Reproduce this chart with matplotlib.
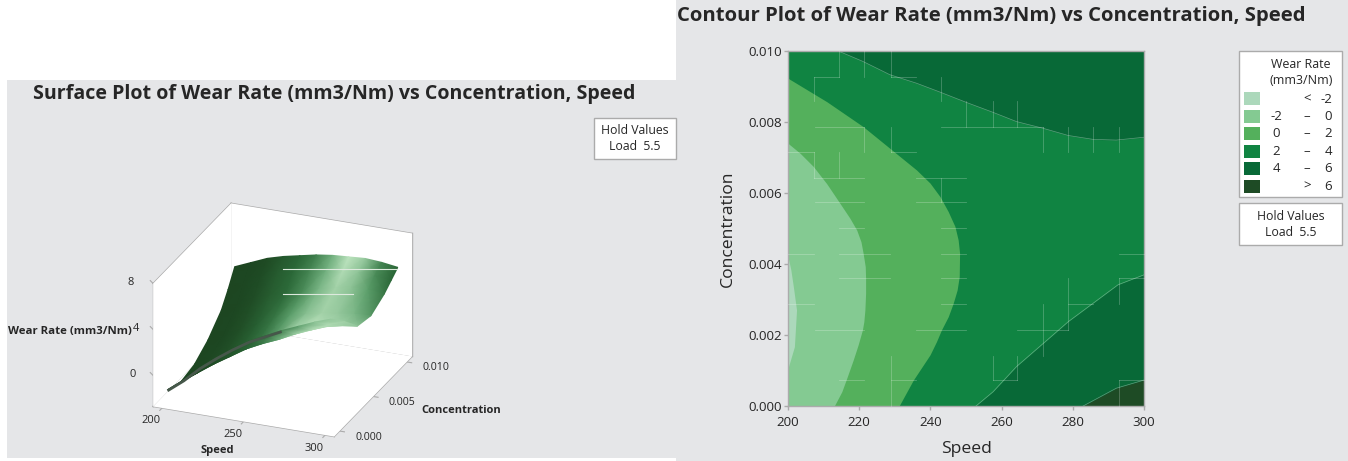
import numpy as np
import matplotlib
matplotlib.use('Agg')
import matplotlib.pyplot as plt
from matplotlib.colors import LinearSegmentedColormap
from matplotlib.patches import Rectangle
from mpl_toolkits.mplot3d import proj3d
from mpl_toolkits.mplot3d.art3d import Poly3DCollection

plt.rcParams['font.family'] = ['Open Sans', 'DejaVu Sans']

# ---- contour data, level boundaries
curve_m2_speed = [200.0, 200.8, 201.5, 202.4, 201.8, 200.0]
curve_m2_conc = [0.0042, 0.00383, 0.00336, 0.0027, 0.00167, 0.00106]
curve_0_speed = [200.0, 203.4, 207.1, 210.9, 214.6, 217.4, 219.3, 220.5, 221.1, 221.7, 221.8, 221.8, 221.6,
                 221.3, 220.9, 219.7, 218.3, 216.5, 215.1, 213.0]
curve_0_conc = [0.00739, 0.00711, 0.00674, 0.00625, 0.0057, 0.00528, 0.00495, 0.00462, 0.0043, 0.00392, 0.00359,
                0.00317, 0.0027, 0.00237, 0.00214, 0.00172, 0.00129, 0.00078, 0.0004, 0.0]
curve_2_speed = [200.0, 210.9, 221.1, 228.6, 236.1, 239.9, 242.7, 245.0, 246.9, 247.8, 248.2, 248.1, 247.5,
                 246.4, 245.0, 243.1, 241.7, 239.9, 235.2, 231.2]
curve_2_conc = [0.00922, 0.00856, 0.00786, 0.00725, 0.00664, 0.00627, 0.00589, 0.00547, 0.00505, 0.00467,
                0.0043, 0.00364, 0.00326, 0.00289, 0.00251, 0.00214, 0.00181, 0.00144, 0.00073, 0.0]
curve_4top_speed = [213.8, 221.1, 228.6, 236.1, 242.7, 250.1, 257.6, 264.2, 271.7, 278.7, 285.7, 292.2, 300.0]
curve_4top_conc = [0.01, 0.00969, 0.00932, 0.00908, 0.00883, 0.00854, 0.00826, 0.008, 0.00781, 0.00761,
                   0.0075, 0.00748, 0.00756]
curve_4bot_speed = [252.8, 257.6, 264.2, 271.7, 278.7, 285.7, 292.7, 300.0]
curve_4bot_conc = [0.0, 0.0004, 0.00111, 0.00176, 0.00237, 0.00289, 0.00341, 0.00369]
curve_6_speed = [282.9, 292.2, 300.0]
curve_6_conc = [0.0, 0.0005, 0.00073]

band_colors = ['#ACD8BB', '#84CA92', '#54B05C', '#108442', '#086937', '#1E4B25']
legend_low = ['', '-2', '0', '2', '4', '']
legend_sep = ['<', '–', '–', '–', '–', '>']
legend_high = ['-2', '0', '2', '4', '6', '6']

# ---- surface data, estimated from the contours
surf_speed = [200, 210, 220, 230, 240, 250, 260, 270, 280, 290, 300]
surf_conc = [0.010, 0.009, 0.008, 0.006, 0.004, 0.002, 0.000]
surf_z = [
    [3.1, 3.7, 4.3, 4.7, 5.0, 5.3, 5.5, 5.6, 5.7, 5.6, 5.4],
    [1.7, 2.6, 3.3, 3.9, 4.3, 4.55, 4.7, 4.85, 5.05, 5.0, 4.85],
    [0.5, 1.2, 2.05, 2.6, 3.0, 3.3, 3.8, 4.1, 4.4, 4.4, 4.3],
    [-0.9, -0.2, 0.5, 1.2, 1.85, 2.4, 2.8, 3.1, 3.3, 3.5, 3.6],
    [-1.8, -1.0, -0.15, 0.6, 1.3, 2.1, 2.6, 3.0, 3.4, 3.7, 3.9],
    [-2.1, -1.1, -0.1, 0.8, 1.7, 2.4, 3.0, 3.7, 4.3, 5.0, 5.5],
    [-1.6, -0.5, 0.8, 1.9, 2.9, 3.8, 4.5, 5.2, 5.8, 6.4, 6.9],
]
surf_shade = [
    [.02, .03, .06, .18, .30, .45, .72, 1.0, .85, .48, .30],
    [.02, .03, .07, .20, .32, .48, .72, .95, .82, .52, .32],
    [.02, .03, .08, .22, .34, .52, .75, .90, .82, .62, .40],
    [.02, .03, .10, .24, .40, .62, .80, .90, .85, .75, .58],
    [.02, .04, .10, .22, .38, .58, .88, 1.0, .95, .90, .82],
    [.02, .04, .08, .16, .28, .42, .70, .88, .95, .95, .90],
    [.02, .03, .05, .08, .12, .20, .30, .45, .60, .80, .85],
]
speed_ticks = [200, 250, 300]
conc_ticks = [0.000, 0.005, 0.010]
z_ticks = [0, 4, 8]
# the 4 is pushed right a little so it clears the axis title
z_label_dx = [-20, -17, -22]

# seams in the contour fill, (fixed, from, to) in 3x crop pixels
seams_h = [(140, 343, 416), (140, 572, 648), (290, 345, 493), (290, 722, 1028), (367, 264, 343), (367, 572, 648),
           (445, 343, 492), (445, 648, 798), (517, 345, 492), (517, 648, 798), (595, 416, 492), (595, 722, 798),
           (673, 264, 343), (673, 416, 570), (673, 722, 798), (673, 1256, 1333), (745, 416, 570), (745, 722, 798),
           (745, 1256, 1333), (823, 264, 343), (823, 722, 798), (823, 1105, 1180), (900, 345, 492), (900, 648, 798),
           (900, 950, 1105), (1051, 416, 492), (1051, 572, 648), (1051, 878, 950), (1051, 1256, 1333)]
seams_v = [(343, 140, 212), (343, 367, 445), (416, 62, 140), (416, 367, 445), (493, 62, 140), (493, 290, 367),
           (572, 62, 140), (572, 290, 367), (572, 978, 1128), (722, 140, 212), (722, 445, 517), (798, 212, 290),
           (878, 212, 290), (878, 978, 1051), (950, 212, 290), (950, 978, 1051), (1028, 290, 367), (1028, 823, 978),
           (1105, 290, 367), (1105, 745, 900), (1180, 290, 367), (1256, 290, 367), (1256, 745, 823), (1256, 1051, 1128)]

GREY = '#E5E6E8'
INK = '#262626'
EDGE = '#ABABAB'
W, H = 1348, 461


def px_rect(x0, y0, x1, y1):
    """figure fractions of a rectangle given in pixels from the top left"""
    return [x0 / W, 1 - y1 / H, (x1 - x0) / W, (y1 - y0) / H]


fig = plt.figure(figsize=(W / 100, H / 100), dpi=100, facecolor='white')

bg = fig.add_axes([0, 0, 1, 1], zorder=-1)
bg.set_xlim(0, W)
bg.set_ylim(H, 0)
bg.axis('off')
bg.add_patch(Rectangle((7, 80), 669, 378, fc=GREY, ec='none'))
bg.add_patch(Rectangle((676, 0), 672, 461, fc=GREY, ec='none'))

# ---- contour panel
ax = fig.add_axes(px_rect(788, 50.5, 1144, 406), zorder=1)
ax.set_xlim(200, 300)
ax.set_ylim(0, 0.01)
ax.axvspan(200, 300, color=band_colors[3], lw=0)
ax.fill_betweenx(curve_2_conc, 200, curve_2_speed, color=band_colors[2], lw=0)
ax.fill_betweenx(curve_0_conc, 200, curve_0_speed, color=band_colors[1], lw=0)
ax.fill_betweenx(curve_m2_conc, 200, curve_m2_speed, color=band_colors[0], lw=0)
ax.fill_between(curve_4top_speed, curve_4top_conc, 0.01, color=band_colors[4], lw=0)
ax.fill_between(curve_4bot_speed, 0, curve_4bot_conc, color=band_colors[4], lw=0)
ax.fill_between(curve_6_speed, 0, curve_6_conc, color=band_colors[5], lw=0)
for xs, ys in [(curve_4top_speed, curve_4top_conc), (curve_4bot_speed, curve_4bot_conc), (curve_6_speed, curve_6_conc)]:
    ax.plot(xs, ys, color='white', lw=0.5, alpha=0.35)
ax.set_xticks([200, 220, 240, 260, 280, 300])
ax.set_yticks([0, 0.002, 0.004, 0.006, 0.008, 0.010])
ax.set_yticklabels(['%.3f' % t for t in ax.get_yticks()])
ax.tick_params(length=3, width=1, color=EDGE, labelsize=9.6, labelcolor=INK, pad=1.5)
ax.tick_params(axis='x', pad=4)
for sp in ax.spines.values():
    sp.set_color(EDGE)
    sp.set_linewidth(1)
ax.set_xlabel('Speed', fontsize=12.6, color=INK, labelpad=9)
ax.set_ylabel('Concentration', fontsize=12.6, color=INK, labelpad=9)

# ---- surface panel, the 3d axes give the projection
ax3 = fig.add_axes(px_rect(125, 170.6, 432, 477.6), projection='3d', zorder=0)
ax3.patch.set_visible(False)
ax3.set_proj_type('ortho')
ax3.view_init(elev=24.4, azim=-68.1)
ax3.set_box_aspect((195, 209, 135), zoom=1.0)
x0, x1 = 194.5, 305.5
y0, y1 = -0.0008, 0.0108
z0, z1 = -2.7, 8.0
ax3.set_xlim(x0, x1, view_margin=0)
ax3.set_ylim(y0, y1, view_margin=0)
ax3.set_zlim(z0, z1, view_margin=0)
ax3.set_axis_off()

walls = [
    [(x0, y0, z0), (x1, y0, z0), (x1, y1, z0), (x0, y1, z0)],
    [(x0, y0, z0), (x0, y1, z0), (x0, y1, z1), (x0, y0, z1)],
    [(x0, y1, z0), (x1, y1, z0), (x1, y1, z1), (x0, y1, z1)],
]
ax3.add_collection3d(Poly3DCollection(walls, facecolors='white', edgecolors='none'))
box_edges = [
    ((x0, x1), (y0, y0), (z0, z0)), ((x1, x1), (y0, y1), (z0, z0)), ((x0, x1), (y1, y1), (z0, z0)),
    ((x0, x0), (y0, y1), (z0, z0)), ((x0, x0), (y0, y0), (z0, z1)), ((x0, x0), (y1, y1), (z0, z1)),
    ((x1, x1), (y1, y1), (z0, z1)), ((x0, x0), (y0, y1), (z1, z1)), ((x0, x1), (y1, y1), (z1, z1)),
]
for ex, ey, ez in box_edges:
    ax3.plot(ex, ey, ez, color=EDGE, lw=1)
for t in speed_ticks:
    ax3.plot((t, t), (y0, y0 - 0.00035), (z0, z0), color=EDGE, lw=0.8)
for t in conc_ticks:
    ax3.plot((x1, x1 + 3), (t, t), (z0, z0), color=EDGE, lw=0.8)
for t in z_ticks:
    ax3.plot((x0, x0 - 3), (y0, y0 + 0.0003), (t, t), color=EDGE, lw=0.8)

fig.canvas.draw()


def to_px(x, y, z):
    """project data coordinates of the 3d axes to figure pixels"""
    u, v, _ = proj3d.proj_transform(np.ravel(x), np.ravel(y), np.ravel(z), ax3.get_proj())
    d = ax3.transData.transform(np.column_stack([u, v]))
    return d[:, 0], H - d[:, 1]


over = fig.add_axes([0, 0, 1, 1], zorder=5)
over.patch.set_visible(False)
over.axis('off')

sx, sy = np.meshgrid(surf_speed, surf_conc)
px, py = to_px(sx, sy, np.array(surf_z))
surf_cmap = LinearSegmentedColormap.from_list('surf', ['#1C4420', '#2C6A39', '#63A672', '#BDE4BF'])
over.pcolormesh(px.reshape(sx.shape), py.reshape(sx.shape), np.array(surf_shade), cmap=surf_cmap,
                vmin=0, vmax=1, shading='gouraud')
ex, ey = to_px(surf_speed, np.zeros(len(surf_speed)), surf_z[-1])
over.plot(ex[:8], ey[:8] + 1, color='#46574A', lw=2, solid_capstyle='butt')
over.plot([283, 397], [269, 269], color='#DDE9DD', lw=0.8)
over.plot([283, 353], [294, 294], color='#DDE9DD', lw=0.8)

for f, a, b in seams_h:
    over.plot([700 + a / 3, 700 + b / 3], [30 + f / 3, 30 + f / 3], color='white', lw=0.6, alpha=0.25)
for f, a, b in seams_v:
    over.plot([700 + f / 3, 700 + f / 3], [30 + a / 3, 30 + b / 3], color='white', lw=0.6, alpha=0.25)

# 3d tick labels
for t in speed_ticks:
    tx, ty = to_px(t, y0, z0)
    over.text(tx[0] - 11, ty[0] + 13, str(t), fontsize=8, color=INK, ha='center', va='center')
for t in conc_ticks:
    tx, ty = to_px(x1, t, z0)
    over.text(tx[0] + 29, ty[0] + 6, '%.3f' % t, fontsize=7.6, color=INK, ha='center', va='center')
for t, dx in zip(z_ticks, z_label_dx):
    tx, ty = to_px(x0, y0, t)
    over.text(tx[0] + dx, ty[0] - 1, str(t), fontsize=8, color=INK, ha='center', va='center')
over.text(217.5, 450, 'Speed', fontsize=8, fontweight='bold', color=INK, ha='center', va='center')
over.text(461, 410, 'Concentration', fontsize=8, fontweight='bold', color=INK, ha='center', va='center')
over.text(69.5, 331, 'Wear Rate (mm3/Nm)', fontsize=8.2, fontweight='bold', color=INK, ha='center', va='center')

over.text(33, 94, 'Surface Plot of Wear Rate (mm3/Nm) vs Concentration, Speed', fontsize=14.1,
          fontweight='bold', color=INK, ha='left', va='center')
over.text(677, 16, 'Contour Plot of Wear Rate (mm3/Nm) vs Concentration, Speed', fontsize=14.55,
          fontweight='bold', color=INK, ha='left', va='center')


def hold_box(x_a, y_a, x_b, y_b):
    over.add_patch(Rectangle((x_a, y_a), x_b - x_a, y_b - y_a, fc='white', ec=EDGE, lw=1))
    mid = (x_a + x_b) / 2
    over.text(mid, y_a + 13, 'Hold Values', fontsize=8.8, color=INK, ha='center', va='center')
    over.text(mid, y_a + 29, 'Load  5.5', fontsize=8.8, color=INK, ha='center', va='center')


hold_box(594, 117.5, 675.5, 158.5)
hold_box(1239, 203, 1342, 245)

# legend of the contour panel
over.add_patch(Rectangle((1239, 51), 103, 146, fc='white', ec=EDGE, lw=1))
over.text(1301, 64, 'Wear Rate', fontsize=8.9, color=INK, ha='center', va='center')
over.text(1301, 81, '(mm3/Nm)', fontsize=9, color=INK, ha='center', va='center')
for i, col in enumerate(band_colors):
    yc = 99 + i * 17.4
    over.add_patch(Rectangle((1244, yc - 6.5), 16, 13, fc=col, ec='none'))
    over.text(1276, yc, legend_low[i], fontsize=9.5, color=INK, ha='center', va='center')
    over.text(1307, yc, legend_sep[i], fontsize=9.5, color=INK, ha='center', va='center')
    over.text(1332, yc, legend_high[i], fontsize=9.5, color=INK, ha='right', va='center')

over.set_xlim(0, W)
over.set_ylim(H, 0)

fig.savefig('out.png', dpi=100)
